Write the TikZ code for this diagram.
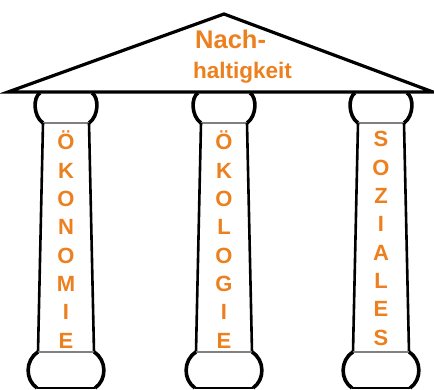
\documentclass[tikz,border=0pt]{standalone}
\usepackage{fontspec}
\setmainfont{Liberation Sans}
\definecolor{nachorange}{RGB}{236,128,30}

\begin{document}
\begin{tikzpicture}[x=1pt,y=-1pt,
  roof/.style={line width=3.2pt, line join=miter},
  shaftline/.style={line width=2.6pt},
  bulge/.style={line width=3.6pt},
  ring/.style={line width=1.2pt, gray},
  title/.style={text=nachorange, font=\bfseries\fontsize{24}{24}\selectfont, anchor=base west, inner sep=0pt},
  letter/.style={text=nachorange, font=\bfseries\fontsize{22}{22}\selectfont, anchor=base, inner sep=0pt}]
\useasboundingbox (0,0) rectangle (434,390);
% roof
\coordinate (apex) at (224,14);
\coordinate (eaveL) at (8,92);
\coordinate (eaveR) at (433,92);
\draw[roof] (eaveL) -- (apex) -- (eaveR) -- cycle;
\node[title, font=\bfseries\fontsize{25.5}{25.5}\selectfont] (nach) at (195,49) {Nach-};
\node[title, font=\bfseries\fontsize{22.5}{22.5}\selectfont] (halt) at (193,79) {haltigkeit};
% pillars
\foreach \c/\n/\s/\w in {66/oek/150/{Ö,K,O,N,O,M,I,E},
                         224/oeko/150/{Ö,K,O,L,O,G,I,E},
                         381/soz/147/{S,O,Z,I,A,L,E,S}}{
  \draw[bulge] (\c-26,93) .. controls (\c-33,97) and (\c-33,116) .. (\c-23,123);
  \draw[bulge] (\c+26,93) .. controls (\c+33,97) and (\c+33,116) .. (\c+23,123);
  \draw[ring] (\c-23,123) -- (\c+23,123);
  \draw[shaftline] (\c-23,123) -- (\c-28,352);
  \draw[shaftline] (\c+23,123) -- (\c+28,352);
  \draw[ring] (\c-28,352) -- (\c+28,352);
  \draw[bulge] (\c-28,352) .. controls (\c-41,360) and (\c-41,380) .. (\c-29,388);
  \draw[bulge] (\c+28,352) .. controls (\c+41,360) and (\c+41,380) .. (\c+29,388);
  \draw[shaftline] (\c-29,388) -- (\c+29,388);
  \foreach \l [count=\i from 0] in \w{
    \node[letter] (\n-\i) at (\c,\s+28.3*\i) {\l};
  }
}
\end{tikzpicture}
\end{document}
